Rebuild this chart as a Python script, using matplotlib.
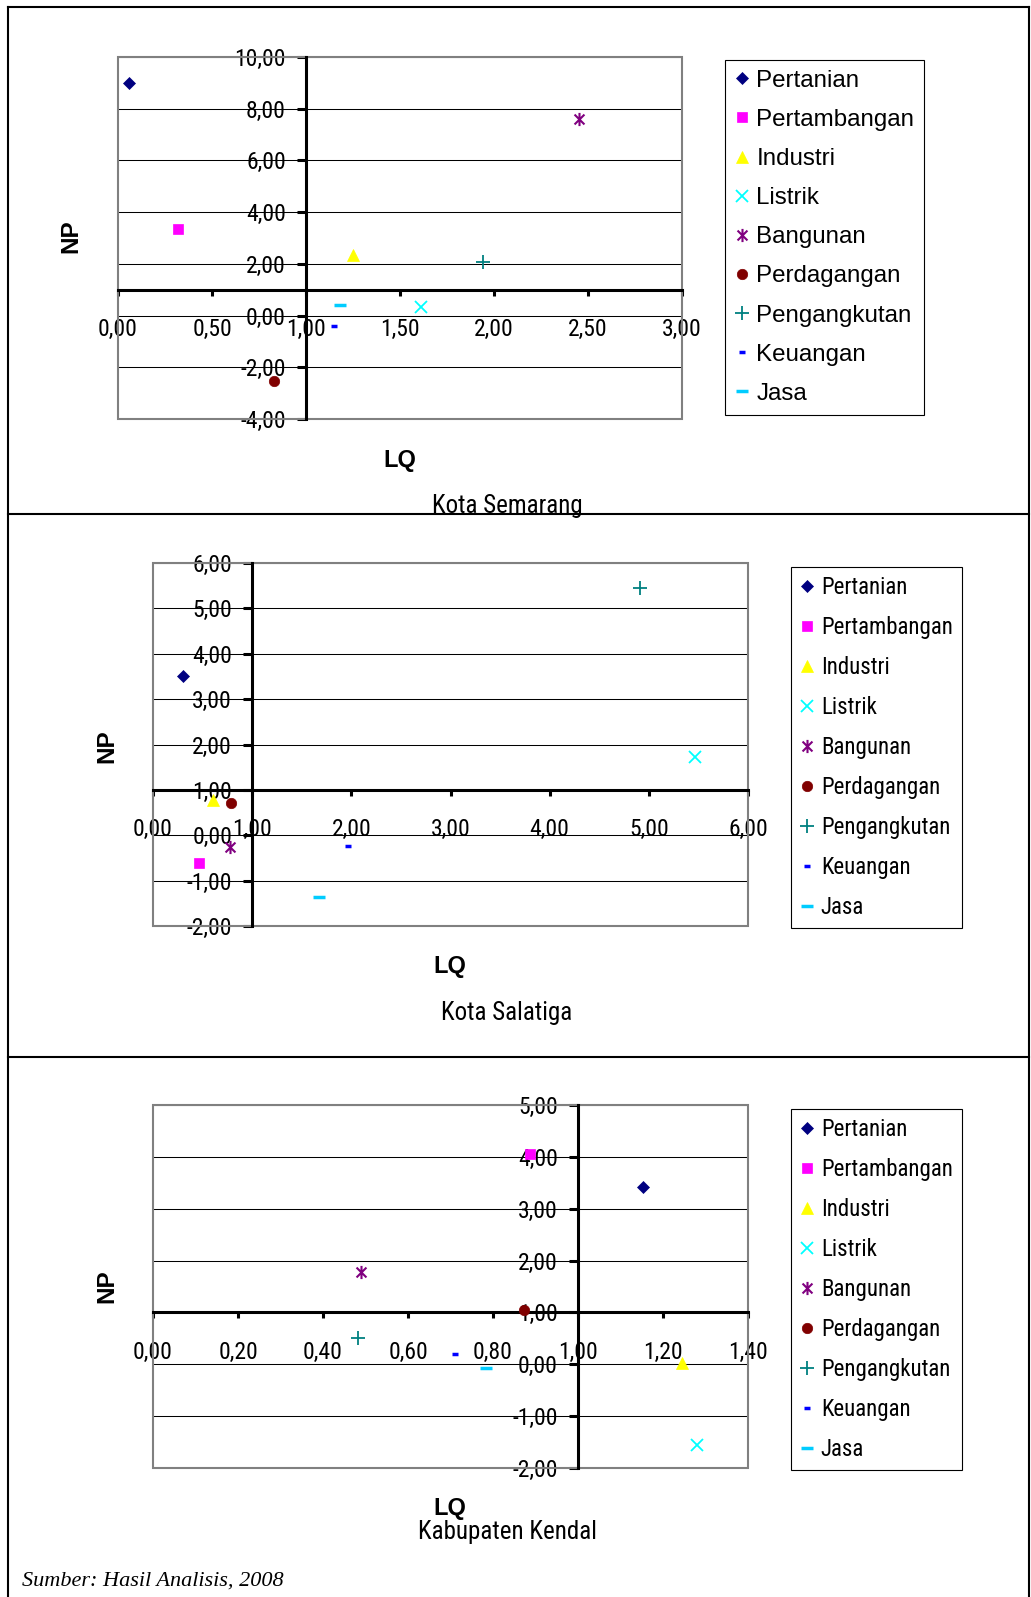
import matplotlib
matplotlib.use('Agg')
import matplotlib.pyplot as plt
from matplotlib import font_manager as fm
from matplotlib.ticker import MultipleLocator, FuncFormatter
from matplotlib.patches import Rectangle
from matplotlib.lines import Line2D
from matplotlib.path import Path

# sectors and marker styles (Excel default series look)
sectors = ['Pertanian', 'Pertambangan', 'Industri', 'Listrik', 'Bangunan',
           'Perdagangan', 'Pengangkutan', 'Keuangan', 'Jasa']

# LQ (x) and NP (y) per region
semarang_lq = [0.06, 0.32, 1.25, 1.61, 2.45, 0.83, 1.94, 1.15, 1.18]
semarang_np = [8.98, 3.36, 2.34, 0.35, 7.59, -2.52, 2.07, -0.42, 0.40]

salatiga_lq = [0.30, 0.46, 0.61, 5.47, 0.78, 0.79, 4.91, 1.97, 1.67]
salatiga_np = [3.52, -0.61, 0.77, 1.73, -0.26, 0.72, 5.46, -0.24, -1.36]

kendal_lq = [1.152, 0.888, 1.245, 1.28, 0.49, 0.873, 0.483, 0.71, 0.784]
kendal_np = [3.41, 4.05, 0.03, -1.55, 1.78, 1.04, 0.51, 0.20, -0.08]

titles = ['Kota Semarang', 'Kota Salatiga', 'Kabupaten Kendal']

W, H = 1031, 1597


def pick_narrow():
    # look for an Arial Narrow look-alike among installed fonts
    names = {f.name for f in fm.fontManager.ttflist}
    for fam in ['Liberation Sans Narrow', 'Arial Narrow', 'Roboto Condensed',
                'Open Sans Condensed', 'Noto Sans Condensed', 'DejaVu Sans Condensed']:
        if fam in names:
            return fam, 'normal'
    for fam in ['Liberation Sans', 'Roboto', 'Noto Sans', 'Open Sans', 'DejaVu Sans', 'Lato']:
        for f in fm.fontManager.ttflist:
            if f.name == fam and f.style == 'normal' and str(f.weight) in ('400', 'normal', 'regular') \
                    and f.stretch in ('condensed', 'semi-condensed'):
                return fam, f.stretch
    return None, None


narrow_fam, narrow_stretch = pick_narrow()
if narrow_fam:
    plt.rcParams['font.family'] = [narrow_fam, 'Liberation Sans', 'DejaVu Sans']
    plt.rcParams['font.stretch'] = narrow_stretch
    tick_size, title_size, leg_size = 17, 18, 16.5
else:
    plt.rcParams['font.family'] = ['Liberation Sans', 'DejaVu Sans']
    tick_size, title_size, leg_size = 15.5, 17, 15

star = Path([(0, -1), (0, 1), (-0.75, -0.75), (0.75, 0.75), (-0.75, 0.75), (0.75, -0.75)],
            [Path.MOVETO, Path.LINETO, Path.MOVETO, Path.LINETO, Path.MOVETO, Path.LINETO])

styles = [
    dict(marker='D', color='#000080', ms=6.5, mew=0.5),
    dict(marker='s', color='#FF00FF', ms=7.5, mew=0.5),
    dict(marker='^', color='#FFFF00', ms=9, mew=0.5),
    dict(marker='x', color='#00FFFF', ms=9, mew=1.3),
    dict(marker=star, color='#800080', ms=9.5, mew=1.5),
    dict(marker='o', color='#800000', ms=7.5, mew=0.5),
    dict(marker='+', color='#008080', ms=9.5, mew=1.3),
    dict(marker='_', color='#0000FF', ms=5, mew=2.5),
    dict(marker='_', color='#00CCFF', ms=9, mew=2.5),
]


def px_rect(l, t, r, b):
    return [l / W, 1 - b / H, (r - l) / W, (b - t) / H]


def comma_fmt(v, pos):
    if abs(v) < 1e-9:
        v = 0.0
    return ('%.2f' % v).replace('.', ',')


fig = plt.figure(figsize=(W / 100, H / 100), dpi=100)

panels = [
    dict(lq=semarang_lq, np=semarang_np, box=(118, 57, 682, 419), xlim=(0, 3), xstep=0.5,
         ylim=(-4, 10), ystep=2, leg=(725, 60), legfont='Liberation Sans',
         np_pos=(71, 236), lq_pos=(400, 460), title_pos=(507, 506)),
    dict(lq=salatiga_lq, np=salatiga_np, box=(153, 563, 748, 926), xlim=(0, 6), xstep=1,
         ylim=(-2, 6), ystep=1, leg=(791, 567), legfont=None,
         np_pos=(107, 746), lq_pos=(450, 967), title_pos=(507, 1013)),
    dict(lq=kendal_lq, np=kendal_np, box=(153, 1105, 748, 1468), xlim=(0, 1.4), xstep=0.2,
         ylim=(-2, 5), ystep=1, leg=(791, 1109), legfont=None,
         np_pos=(107, 1286), lq_pos=(450, 1509), title_pos=(507, 1532)),
]

for i, p in enumerate(panels):
    ax = fig.add_axes(px_rect(*p['box']))
    ax.set_xlim(*p['xlim'])
    ax.set_ylim(*p['ylim'])

    for name, x, y, st in zip(sectors, p['lq'], p['np'], styles):
        ax.plot([x], [y], linestyle='none', marker=st['marker'], color=st['color'],
                markersize=st['ms'], markeredgewidth=st['mew'], label=name,
                zorder=5, clip_on=False)

    ax.xaxis.set_major_locator(MultipleLocator(p['xstep']))
    ax.yaxis.set_major_locator(MultipleLocator(p['ystep']))
    ax.xaxis.set_major_formatter(FuncFormatter(comma_fmt))
    ax.yaxis.set_major_formatter(FuncFormatter(comma_fmt))
    ax.yaxis.grid(True, color='black', linewidth=0.75)
    ax.set_axisbelow(True)

    # axes cross at LQ = 1 and NP = 1
    ax.spines['left'].set_position(('data', 1))
    ax.spines['bottom'].set_position(('data', 1))
    for s in ['left', 'bottom']:
        ax.spines[s].set_linewidth(2.2)
        ax.spines[s].set_color('black')
        ax.spines[s].set_zorder(3)
    ax.spines['top'].set_visible(False)
    ax.spines['right'].set_visible(False)

    ax.add_patch(Rectangle((0, 0), 1, 1, transform=ax.transAxes, fill=False,
                           edgecolor='#808080', linewidth=1.5, zorder=2, clip_on=False))

    ax.tick_params(axis='x', direction='out', length=4.5, width=2.2, pad=16,
                   labelsize=tick_size, top=False)
    ax.tick_params(axis='y', direction='out', length=6.5, width=2.2, pad=8,
                   labelsize=tick_size, right=False)

    if p['legfont']:
        prop = dict(family=p['legfont'], size=17.4, stretch='normal')
        lspace = 0.71
    else:
        prop = dict(size=leg_size)
        lspace = 0.74
    leg = ax.legend(loc='upper left', bbox_to_anchor=(p['leg'][0] / W, 1 - p['leg'][1] / H),
                    bbox_transform=fig.transFigure, borderaxespad=0, prop=prop,
                    frameon=True, fancybox=False, framealpha=1, edgecolor='black',
                    borderpad=0.4, labelspacing=lspace, handlelength=0.6,
                    handletextpad=0.3)
    leg.get_frame().set_linewidth(0.8)

    fig.text(p['np_pos'][0] / W, 1 - p['np_pos'][1] / H, 'NP', rotation=90,
             family='Liberation Sans', stretch='normal', fontweight='bold', size=17.5,
             ha='center', va='center')
    fig.text(p['lq_pos'][0] / W, 1 - p['lq_pos'][1] / H, 'LQ',
             family='Liberation Sans', stretch='normal', fontweight='bold', size=17,
             ha='center', va='center')
    fig.text(p['title_pos'][0] / W, 1 - p['title_pos'][1] / H, titles[i],
             size=title_size, ha='center', va='center')

fig.text(22 / W, 1 - 1586 / H, 'Sumber: Hasil Analisis, 2008', family='Liberation Serif',
         stretch='normal', style='italic', size=16, ha='left', va='baseline')


# page border and panel dividers
def fig_line(x0, y0, x1, y1):
    fig.add_artist(Line2D([x0 / W, x1 / W], [1 - y0 / H, 1 - y1 / H],
                          transform=fig.transFigure, color='black', linewidth=1.5))


fig_line(7.7, 7, 7.7, H)
fig_line(1028.5, 7, 1028.5, H)
fig_line(7.7, 7, 1028.5, 7)
fig_line(7.7, 514.3, 1028.5, 514.3)
fig_line(7.7, 1056.7, 1028.5, 1056.7)

fig.savefig('out.png', dpi=100)
